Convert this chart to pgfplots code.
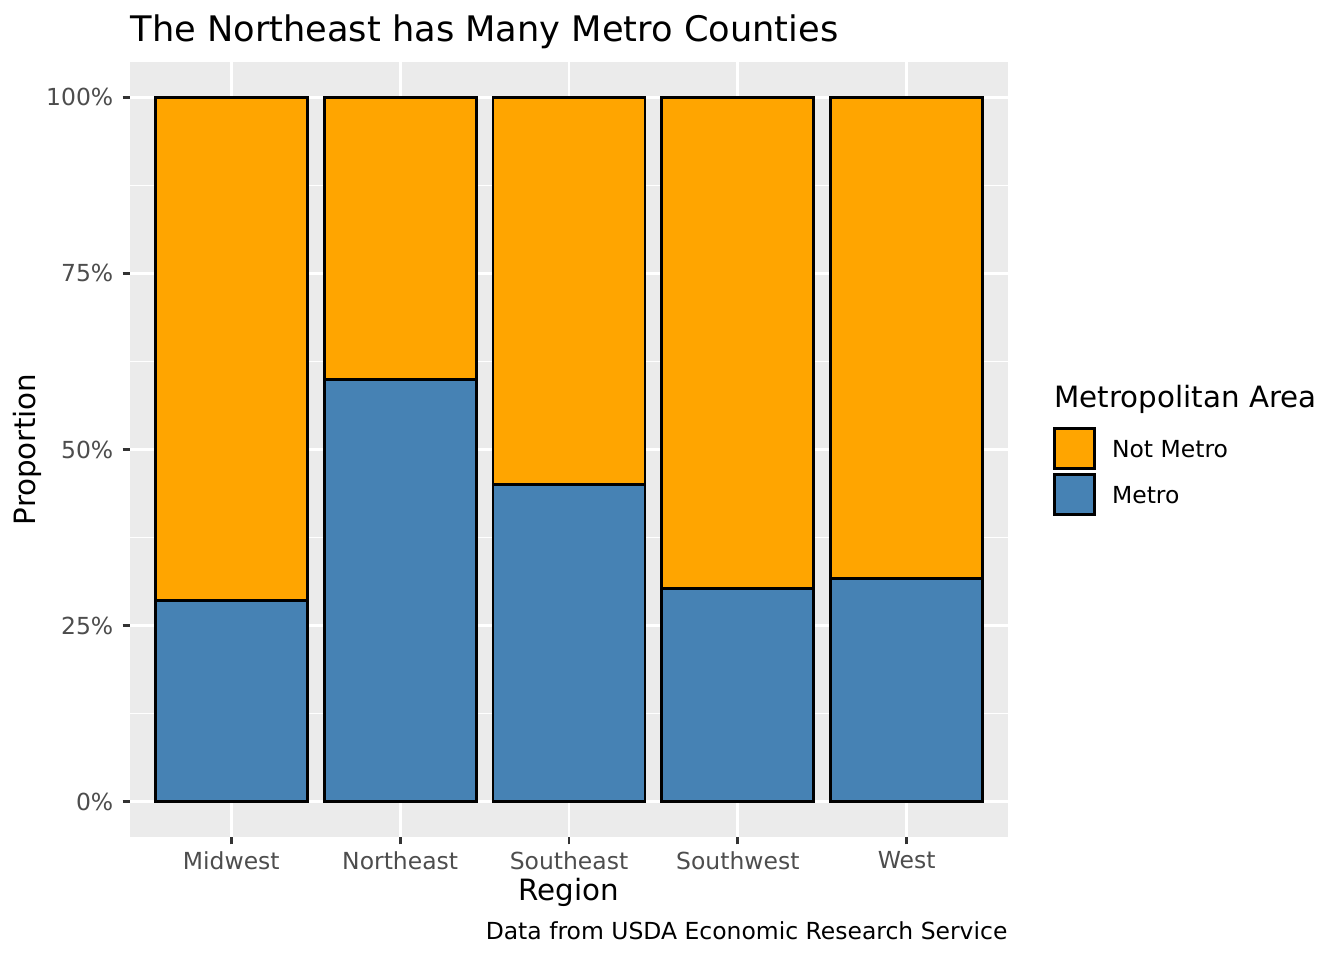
\documentclass[border=0pt]{standalone}
\usepackage{pgfplots}
\pgfplotsset{compat=1.18}
\usepackage{fontspec}
\setmainfont{DejaVu Sans}
\definecolor{ggorange}{HTML}{FFA500}
\definecolor{ggblue}{HTML}{4682B4}
\definecolor{gggray}{HTML}{EBEBEB}
\definecolor{ggtext}{HTML}{4D4D4D}
\definecolor{ggtick}{HTML}{333333}
\newcommand{\fsmall}{\fontsize{8.8}{10}\selectfont}
\newcommand{\fmed}{\fontsize{11}{13}\selectfont}
\newcommand{\fbig}{\fontsize{13.2}{15}\selectfont}
\pgfplotsset{
  mylegend/.style={legend image code/.code={\draw[##1,line width=1.07pt] (0pt,-6.9pt) rectangle (15pt,8.1pt);}},
}
\begin{document}
\begin{tikzpicture}
\useasboundingbox (-48.75pt,-46.125pt) rectangle (455.25pt,313.875pt);
\begin{axis}[
  at={(0,0)}, anchor=south west,
  scale only axis, width=329.25pt, height=290.625pt,
  ybar stacked, bar width=0.9,
  xmin=0.4, xmax=5.6, ymin=-0.05, ymax=1.05,
  xtick={1,2,3,4,5},
  xticklabels={Midwest,Northeast,Southeast,Southwest,West},
  ytick={0,0.25,0.5,0.75,1},
  yticklabels={0\%,25\%,50\%,75\%,100\%},
  minor ytick={0.125,0.375,0.625,0.875},
  xmajorgrids, ymajorgrids, yminorgrids,
  major grid style={white, line width=1.07pt},
  minor grid style={white, line width=0.53pt},
  axis background/.style={fill=gggray},
  axis line style={draw=none},
  tick align=outside, major tick length=2.75pt, minor tick length=0pt,
  tick style={ggtick, line width=1.07pt},
  xtick pos=left, ytick pos=left,
  ticklabel style={font=\fsmall, text=ggtext},
  xticklabel style={yshift=0.75pt},
  xlabel={Region}, ylabel={Proportion},
  every axis x label/.style={at={(axis description cs:0.5,0)}, yshift=-20.6pt, anchor=center, font=\fmed},
  every axis y label/.style={at={(axis description cs:0,0.5)}, xshift=-38.6pt, anchor=center, rotate=90, font=\fmed},
  reverse legend,
  legend style={at={(1.0421,0.536)}, anchor=north west, draw=none, fill=none, font=\fsmall, row sep=1.18pt,
    /tikz/every odd column/.append style={column sep=3.9pt}},
  legend cell align=left,
]
\addplot[mylegend, fill=ggblue, draw=black, line width=1.07pt] coordinates {(1,0.286) (2,0.599) (3,0.450) (4,0.303) (5,0.317)};
\addlegendentry{Metro}
\addplot[mylegend, fill=ggorange, draw=black, line width=1.07pt] coordinates {(1,0.714) (2,0.401) (3,0.550) (4,0.697) (5,0.683)};
\addlegendentry{Not Metro}
\end{axis}
\node[anchor=base west, font=\fmed, inner sep=0pt] at (346.5pt,160.9pt) {Metropolitan Area};
\node[anchor=base west, font=\fbig, inner sep=0pt] at (0pt,298.5pt) {The Northeast has Many Metro Counties};
\node[anchor=base east, font=\fsmall, inner sep=0pt] at (329.25pt,-38.6pt) {Data from USDA Economic Research Service};
\end{tikzpicture}
\end{document}
